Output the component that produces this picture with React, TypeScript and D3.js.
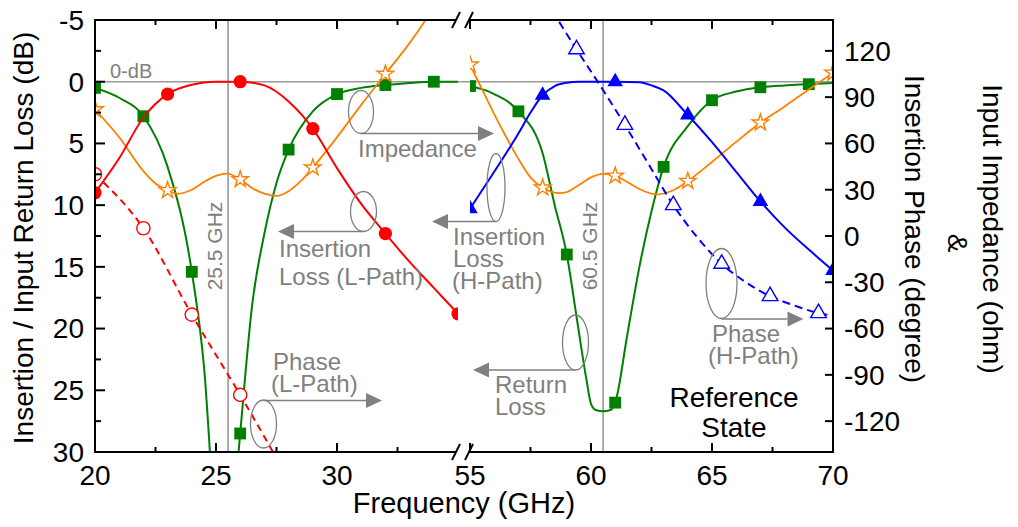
import React from 'react';
import * as d3 from 'd3';

const W = 1018;
const H = 527;
const plot = { left: 95, right: 833, top: 20, bottom: 452 };
const FONT = '"Liberation Sans", Arial, Helvetica, sans-serif';
const GRAY = '#808080';

// axis ticks
const loTicks = [20, 22.5, 25, 27.5, 30, 32.5];
const hiTicks = [55, 57.5, 60, 62.5, 65, 67.5, 70];
const xLabels = [20, 25, 30, 55, 60, 65, 70];
const leftMajor = [-5, 0, 5, 10, 15, 20, 25, 30];
const leftMinor = [-2.5, 2.5, 7.5, 12.5, 17.5, 22.5, 27.5];
const rightTicks = [120, 90, 60, 30, 0, -30, -60, -90, -120];

// Insertion loss, L-path (dB)
const ilLFreq = [20, 21, 22, 23, 24, 24.5, 25, 26, 27, 28, 29, 30, 31, 32, 33, 34, 35];
const ilLVal = [9.0, 6.2, 2.9, 1.0, 0.25, 0.06, 0.0, 0.0, 0.3, 1.6, 3.8, 7.0, 9.9, 12.3, 14.6, 16.7, 18.8];
const ilLMark = [20, 23, 26, 29, 32, 35];

// Insertion phase, L-path (degree)
const phLFreq = [20, 22, 24, 26, 28];
const phLVal = [40, 5, -51, -103, -158];
const phLMark = [20, 22, 24, 26];

// Input return loss (dB)
const rlLoFreq = [20, 21, 22, 23, 24, 24.5, 25, 25.3, 25.6, 25.8, 26, 26.5, 27, 27.5, 28, 29, 30, 31, 32, 33, 34, 35];
const rlLoVal = [0.5, 1.3, 2.8, 6.9, 15.4, 23, 37, 42, 38, 33, 28.5, 18, 12.3, 8.2, 5.5, 2.4, 1.0, 0.5, 0.27, 0.1, 0.0, 0.0];
const rlLoMark = [20, 22, 24, 26, 28, 30, 32, 34];
const rlHiFreq = [55, 56, 57, 58, 58.5, 59, 59.4, 59.8, 60, 60.2, 60.5, 60.8, 61, 61.5, 62, 62.5, 63, 64, 65, 66, 67, 68, 69, 70];
const rlHiVal = [0.35, 1.0, 2.4, 5.8, 10.0, 14.0, 19.0, 24.0, 26.1, 26.6, 26.7, 26.6, 26.0, 20.5, 15, 10.5, 6.9, 3.6, 1.5, 0.8, 0.45, 0.3, 0.2, 0.1];
const rlHiMark = [55, 57, 59, 61, 63, 65, 67, 69];

// Insertion loss, H-path (dB)
const ilHFreq = [55, 56, 57, 57.5, 58, 58.5, 59, 59.5, 60, 61, 62, 62.5, 63, 64, 65, 66, 67, 68, 69, 70];
const ilHVal = [10.3, 7.3, 4.2, 2.5, 1.1, 0.35, 0.08, 0.0, 0.0, 0.0, 0.05, 0.3, 0.7, 2.7, 4.9, 7.3, 9.7, 11.8, 13.6, 15.3];
const ilHMark = [55, 58, 61, 64, 67, 70];

// Insertion phase, H-path (degree)
const phHFreq = [58.4, 59.4, 60.4, 61.4, 62.4, 63.4, 64.4, 65.4, 66.4, 67.4, 68.4, 69.4, 70];
const phHVal = [146, 121, 97, 72, 46, 20, -1, -18, -30, -39, -45, -50, -51.5];
const phHMark = [59.4, 61.4, 63.4, 65.4, 67.4, 69.4];

// Input impedance (ohm)
const zLoFreq = [20, 21, 22, 22.5, 23, 23.4, 24, 24.5, 25, 25.45, 26, 26.5, 27, 27.5, 28, 28.5, 29, 30, 31, 32, 33, 34];
const zLoVal = [82, 64, 42, 34, 29.6, 27.4, 30, 35, 39, 40.4, 36.7, 31, 27.5, 26, 29, 35.5, 44.3, 64, 85, 105, 125, 148];
const zLoMark = [20, 23, 26, 29, 32];
const zHiFreq = [55, 55.5, 56, 56.5, 57, 57.5, 58, 58.4, 58.7, 59, 59.5, 60, 60.5, 61, 61.5, 62, 62.5, 62.8, 63.2, 63.5, 64, 65, 66, 67, 68, 69, 70];
const zHiVal = [111, 95, 79, 64, 50, 38, 31.3, 28.5, 27.8, 28.5, 33, 38, 40.3, 39, 35, 30.5, 27.5, 27, 28.5, 30.5, 35.6, 48, 61, 73.4, 84, 95, 105.8];
const zHiMark = [55, 58, 61, 64, 67, 70];

const xLo = d3.scaleLinear().domain([20, 35]).range([plot.left, 458]);
const xHi = d3.scaleLinear().domain([55, 70]).range([470, plot.right]);
const yL = d3.scaleLinear().domain([-5, 30]).range([plot.top, plot.bottom]);
const yR = d3.scaleLinear().domain([140, -140]).range([plot.top, plot.bottom]);

type Marker = 'circle' | 'ocircle' | 'square' | 'tri' | 'otri' | 'star';
type Series = {
  freq: number[];
  val: number[];
  marks: number[];
  seg: 'lo' | 'hi';
  axis: 'L' | 'R';
  color: string;
  dash?: string;
  width: number;
  marker: Marker;
};

const series: Series[] = [
  { freq: rlLoFreq, val: rlLoVal, marks: rlLoMark, seg: 'lo', axis: 'L', color: '#008000', width: 2, marker: 'square' },
  { freq: rlHiFreq, val: rlHiVal, marks: rlHiMark, seg: 'hi', axis: 'L', color: '#008000', width: 2, marker: 'square' },
  { freq: zLoFreq, val: zLoVal, marks: zLoMark, seg: 'lo', axis: 'R', color: '#ff8000', width: 1.8, marker: 'star' },
  { freq: zHiFreq, val: zHiVal, marks: zHiMark, seg: 'hi', axis: 'R', color: '#ff8000', width: 1.8, marker: 'star' },
  { freq: phLFreq, val: phLVal, marks: phLMark, seg: 'lo', axis: 'R', color: '#ff0000', dash: '7,5', width: 2, marker: 'ocircle' },
  { freq: ilLFreq, val: ilLVal, marks: ilLMark, seg: 'lo', axis: 'L', color: '#ff0000', width: 2, marker: 'circle' },
  { freq: phHFreq, val: phHVal, marks: phHMark, seg: 'hi', axis: 'R', color: '#0000ff', dash: '8,5', width: 2, marker: 'otri' },
  { freq: ilHFreq, val: ilHVal, marks: ilHMark, seg: 'hi', axis: 'L', color: '#0000ff', width: 2, marker: 'tri' },
];

const symbolPath = (m: Marker) => {
  if (m === 'square') return d3.symbol().type(d3.symbolSquare).size(140)()!;
  if (m === 'tri' || m === 'otri') return d3.symbol().type(d3.symbolTriangle).size(105)()!;
  if (m === 'star') return d3.symbol().type(d3.symbolStar).size(85)()!;
  return d3.symbol().type(d3.symbolCircle).size(Math.PI * 44)()!;
};

const Arrow = ({ x1, x2, y }: { x1: number; x2: number; y: number }) => {
  const dir = x2 > x1 ? 1 : -1;
  const base = x2 - dir * 16;
  return (
    <g>
      <line x1={x1} y1={y} x2={base} y2={y} stroke={GRAY} strokeWidth={1.6} />
      <polygon points={`${x2},${y} ${base},${y - 7.5} ${base},${y + 7.5}`} fill={GRAY} />
    </g>
  );
};

const Callout = ({ cx, cy, rx, ry, ax2, ay, ax1, lines }: any) => (
  <g>
    <ellipse cx={cx} cy={cy} rx={rx} ry={ry} fill="none" stroke={GRAY} strokeWidth={1.3} />
    <Arrow x1={ax1 ?? cx} x2={ax2} y={ay} />
    {lines.map((l: [string, number, number], i: number) => (
      <text key={i} x={l[1]} y={l[2]} fontSize={24} fill={GRAY} fontFamily={FONT}>{l[0]}</text>
    ))}
  </g>
);

export default function App() {
  const renderSeries = (s: Series, i: number) => {
    const xs = s.seg === 'lo' ? xLo : xHi;
    const ys = s.axis === 'L' ? yL : yR;
    const pts = s.freq.map((f, k) => [f, s.val[k]] as [number, number]);
    const line = d3.line<[number, number]>()
      .x(d => xs(d[0]))
      .y(d => ys(d[1]))
      .curve(d3.curveMonotoneX);
    const sym = symbolPath(s.marker);
    const open = s.marker === 'ocircle' || s.marker === 'otri' || s.marker === 'star';
    return (
      <g key={i} clipPath={`url(#clip-${s.seg})`}>
        <path d={line(pts)!} fill="none" stroke={s.color} strokeWidth={s.width} strokeDasharray={s.dash} />
        {s.marks.map(f => {
          const v = s.val[s.freq.indexOf(f)];
          return (
            <path key={f} d={sym} transform={`translate(${xs(f)},${ys(v)})`}
              fill={open ? '#fff' : s.color} stroke={s.color} strokeWidth={open ? 1.4 : 0} />
          );
        })}
      </g>
    );
  };

  const breakMark = (y: number) => (
    <g stroke="#000" strokeWidth={2}>
      <line x1={452} y1={y + 8} x2={460} y2={y - 8} />
      <line x1={465} y1={y + 8} x2={473} y2={y - 8} />
    </g>
  );

  return (
    <div style={{ position: 'absolute', left: 0, top: 0 }}>
      <svg width={W} height={H} style={{ display: 'block', background: '#fff' }} fontFamily={FONT}>
        <defs>
          <clipPath id="clip-lo"><rect x={plot.left} y={plot.top} width={458 - plot.left} height={plot.bottom - plot.top} /></clipPath>
          <clipPath id="clip-hi"><rect x={470} y={plot.top} width={plot.right - 470} height={plot.bottom - plot.top} /></clipPath>
        </defs>

        {/* reference lines */}
        <line x1={plot.left} x2={plot.right} y1={yL(0)} y2={yL(0)} stroke="#999" strokeWidth={1.6} />
        <line x1={xLo(25.5)} x2={xLo(25.5)} y1={plot.top} y2={plot.bottom} stroke="#999" strokeWidth={1.6} />
        <line x1={xHi(60.5)} x2={xHi(60.5)} y1={plot.top} y2={plot.bottom} stroke="#999" strokeWidth={1.6} />
        <text x={110} y={78} fontSize={20} fill={GRAY}>0-dB</text>
        <text transform={`translate(${xLo(25.5) - 6},246) rotate(-90)`} textAnchor="middle" fontSize={21} fill={GRAY}>25.5 GHz</text>
        <text transform={`translate(${xHi(60.5) - 6},246) rotate(-90)`} textAnchor="middle" fontSize={21} fill={GRAY}>60.5 GHz</text>

        {series.map(renderSeries)}

        {/* callouts */}
        <Callout cx={361} cy={112} rx={12.5} ry={21.5} ay={133.5} ax2={494} lines={[['Impedance', 358, 157]]} />
        <Callout cx={363.5} cy={211.5} rx={13} ry={20} ay={231.5} ax2={278} lines={[['Insertion', 279, 257], ['Loss (L-Path)', 279, 285]]} />
        <Callout cx={496} cy={187.5} rx={9} ry={34} ay={221.5} ax2={432} lines={[['Insertion', 453, 245], ['Loss', 453, 267], ['(H-Path)', 452, 289]]} />
        <Callout cx={263.5} cy={424} rx={13} ry={24} ay={400.5} ax2={382} lines={[['Phase', 273, 370], ['(L-Path)', 271, 392]]} />
        <Callout cx={575.5} cy={342.5} rx={13} ry={27.5} ay={370} ax2={473} lines={[['Return', 495, 393], ['Loss', 495, 415]]} />
        <Callout cx={721.5} cy={283.5} rx={15.5} ry={35} ay={319} ax2={803.5} lines={[['Phase', 712, 341.5], ['(H-Path)', 708, 364]]} />
        <text x={734} y={406.5} textAnchor="middle" fontSize={28} fill="#000">Reference</text>
        <text x={734} y={436.5} textAnchor="middle" fontSize={28} fill="#000">State</text>

        {/* frame */}
        <g stroke="#000" strokeWidth={2} fill="none">
          <line x1={plot.left} x2={plot.left} y1={plot.top - 1} y2={plot.bottom + 1} />
          <line x1={plot.right} x2={plot.right} y1={plot.top - 1} y2={plot.bottom + 1} />
          <line x1={plot.left} x2={456} y1={plot.top} y2={plot.top} />
          <line x1={469} x2={plot.right} y1={plot.top} y2={plot.top} />
          <line x1={plot.left} x2={456} y1={plot.bottom} y2={plot.bottom} />
          <line x1={469} x2={plot.right} y1={plot.bottom} y2={plot.bottom} />
          {loTicks.map(t => {
            const len = t % 5 === 0 ? 9 : 5;
            return (
              <g key={'lo' + t}>
                <line x1={xLo(t)} x2={xLo(t)} y1={plot.bottom} y2={plot.bottom - len} />
                <line x1={xLo(t)} x2={xLo(t)} y1={plot.top} y2={plot.top + len} />
              </g>
            );
          })}
          {hiTicks.map(t => {
            const len = t % 5 === 0 ? 9 : 5;
            return (
              <g key={'hi' + t}>
                <line x1={xHi(t)} x2={xHi(t)} y1={plot.bottom} y2={plot.bottom - len} />
                <line x1={xHi(t)} x2={xHi(t)} y1={plot.top} y2={plot.top + len} />
              </g>
            );
          })}
          {leftMajor.map(t => <line key={'lm' + t} x1={plot.left} x2={plot.left + 10} y1={yL(t)} y2={yL(t)} />)}
          {leftMinor.map(t => <line key={'ln' + t} x1={plot.left} x2={plot.left + 6} y1={yL(t)} y2={yL(t)} />)}
          {rightTicks.map(t => <line key={'r' + t} x1={plot.right} x2={plot.right - 8} y1={yR(t)} y2={yR(t)} />)}
        </g>
        {breakMark(plot.top)}
        {breakMark(plot.bottom)}

        {/* tick labels */}
        {xLabels.map(t => (
          <text key={'xl' + t} x={t < 45 ? xLo(t) : xHi(t)} y={485} textAnchor="middle" fontSize={28}>{t}</text>
        ))}
        {leftMajor.map(t => (
          <text key={'yl' + t} x={84} y={yL(t)} dy="0.35em" textAnchor="end" fontSize={28}>{t}</text>
        ))}
        {rightTicks.map(t => (
          <text key={'yr' + t} x={844} y={yR(t)} dy="0.35em" textAnchor="start" fontSize={28}>{t}</text>
        ))}

        {/* axis titles */}
        <text x={464} y={513} textAnchor="middle" fontSize={29}>Frequency (GHz)</text>
        <text transform="translate(33,238) rotate(-90)" textAnchor="middle" fontSize={28}>Insertion / Input Return Loss (dB)</text>
        <text transform="translate(983,229) rotate(90)" textAnchor="middle" fontSize={28}>Input Impedance (ohm)</text>
        <text transform="translate(948,243) rotate(90)" textAnchor="middle" fontSize={28}>&amp;</text>
        <text transform="translate(905,229) rotate(90)" textAnchor="middle" fontSize={28}>Insertion Phase (degree)</text>
      </svg>
    </div>
  );
}
